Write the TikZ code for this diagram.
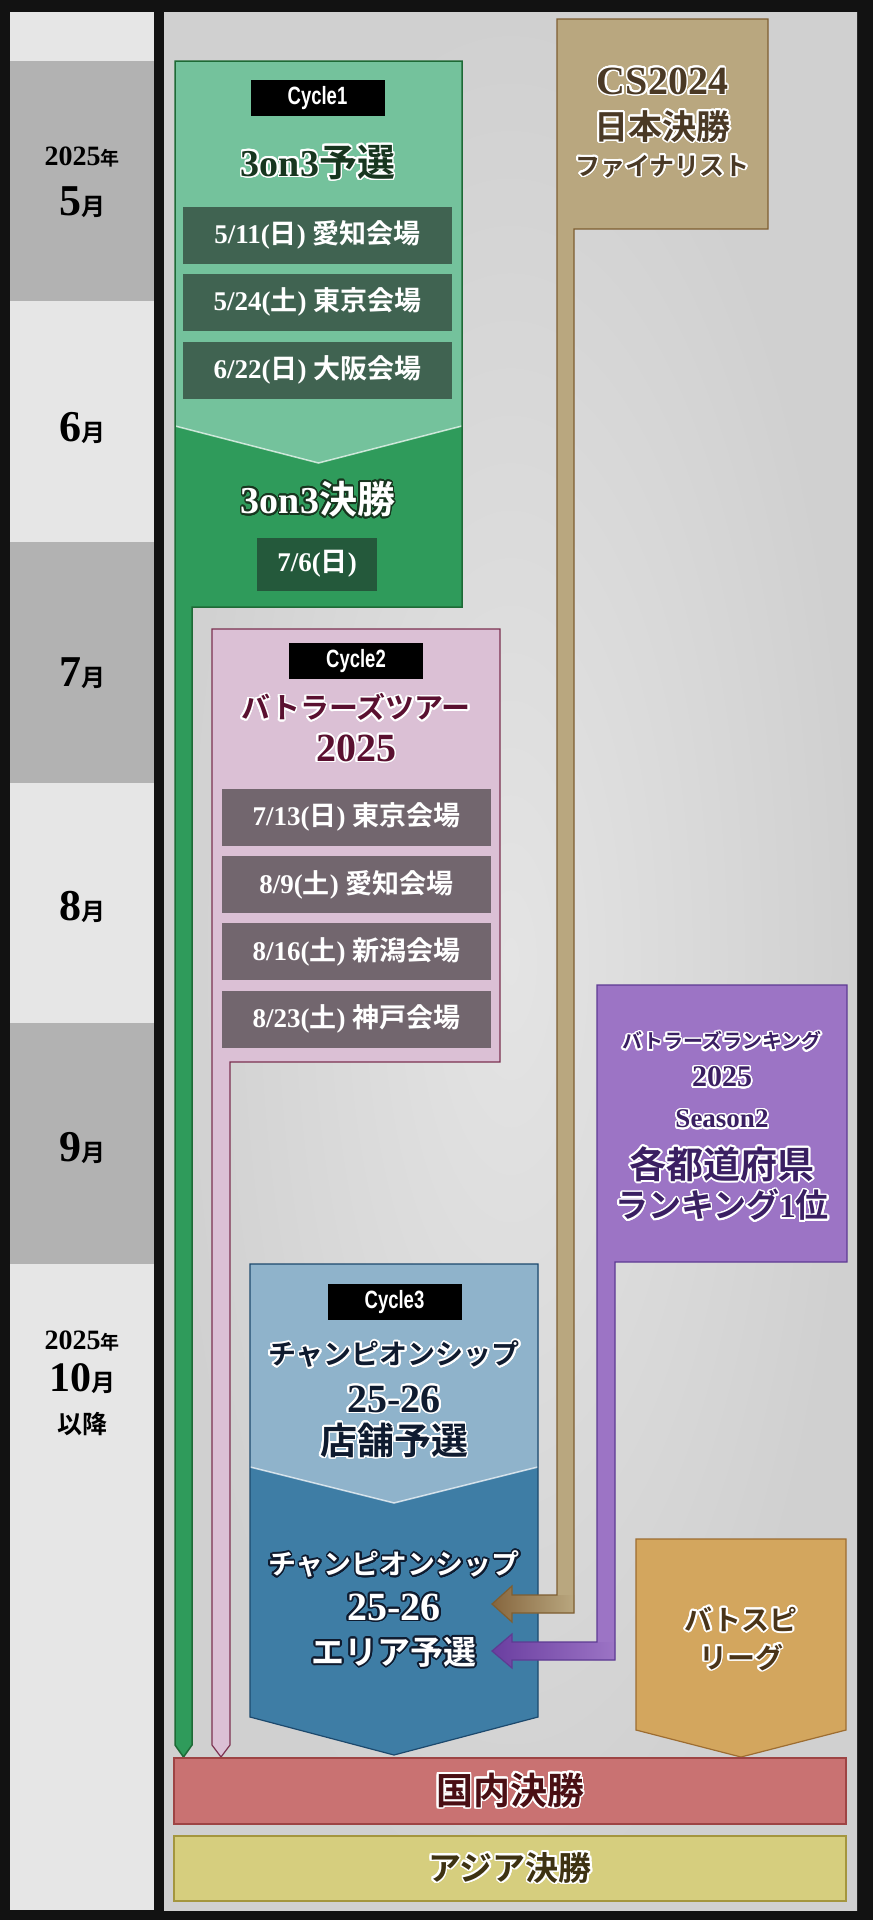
\documentclass[tikz,border=0pt]{standalone}
\usepackage{fontspec}
\setmainfont{Liberation Serif}
\newfontfamily\jpfont{Noto Sans CJK JP}[BoldFont={Noto Sans CJK JP Bold}]
\newfontfamily\cyclefont{Liberation Sans}[FakeStretch=0.74]
\usepackage{contour}
\contourlength{1.7pt}
\contournumber{24}

% police japonaise pour les caracteres CJK
\XeTeXinterchartokenstate=1
\newXeTeXintercharclass\jpclass
\newcount\jpc
\jpc="3000
\loop
  \XeTeXcharclass\jpc=\jpclass
  \ifnum\jpc<"9FFF \advance\jpc by 1
\repeat
\XeTeXinterchartoks 0 \jpclass = {\begingroup\jpfont}
\XeTeXinterchartoks 4095 \jpclass = {\begingroup\jpfont}
\XeTeXinterchartoks \jpclass 0 = {\endgroup}
\XeTeXinterchartoks \jpclass 4095 = {\endgroup}

\newcommand{\sz}[1]{\fontsize{#1}{#1}\selectfont}

\definecolor{noir}{HTML}{121212}
\definecolor{fondclair}{HTML}{E4E4E4}
\definecolor{fondsombre}{HTML}{D0D0D0}
\definecolor{moisclair}{HTML}{E6E6E6}
\definecolor{moisfonce}{HTML}{B2B2B2}
\definecolor{vertclair}{HTML}{74C29C}
\definecolor{vertfonce}{HTML}{2F9B5B}
\definecolor{vertbord}{HTML}{1E6A36}
\definecolor{vertdate}{HTML}{3C5B4B}
\definecolor{vertcase}{HTML}{245439}
\definecolor{vertencre}{HTML}{17361F}
\definecolor{rose}{HTML}{DBC0D5}
\definecolor{rosebord}{HTML}{7B3150}
\definecolor{rosedate}{HTML}{6A5F66}
\definecolor{roseencre}{HTML}{5A1030}
\definecolor{sable}{HTML}{B9A77F}
\definecolor{sablebord}{HTML}{7E5E32}
\definecolor{sablefleche}{HTML}{86663E}
\definecolor{sableencre}{HTML}{4A3925}
\definecolor{mauve}{HTML}{9C74C5}
\definecolor{mauvebord}{HTML}{5E3B93}
\definecolor{mauvefleche}{HTML}{6A3EA0}
\definecolor{mauveencre}{HTML}{3A1F62}
\definecolor{bleuclair}{HTML}{8FB3CB}
\definecolor{bleufonce}{HTML}{3E7DA5}
\definecolor{bleubord}{HTML}{1C496D}
\definecolor{bleuencre}{HTML}{0F1B2F}
\definecolor{ocre}{HTML}{D3A65E}
\definecolor{ocrebord}{HTML}{9D6D31}
\definecolor{ocreencre}{HTML}{4A3418}
\definecolor{rouge}{HTML}{C97272}
\definecolor{rougebord}{HTML}{9E4444}
\definecolor{rougeencre}{HTML}{4A0F14}
\definecolor{jaune}{HTML}{D6CE7E}
\definecolor{jaunebord}{HTML}{A4963E}
\definecolor{jauneencre}{HTML}{3E3212}

\begin{document}
\begin{tikzpicture}[x=1pt,y=-1pt]
\tikzset{cycletag/.style={fill=black, text=white, minimum width=134pt, minimum height=36pt, inner sep=0pt, font=\cyclefont\bfseries\sz{25}},
  datebox/.style={fill=#1, fill opacity=.92, text opacity=1, text=white, minimum width=269pt, minimum height=57pt, inner sep=0pt, font=\bfseries\sz{27}},
  titre/.style={inner sep=0pt, font=\bfseries\sz{#1}},
  mois/.style={inner sep=0pt, font=\bfseries, text=black},
  chevron/.style={draw=white, draw opacity=.7, line width=1.5pt},
  barre/.style={line width=1.2pt, minimum width=672pt, inner sep=0pt}}
\useasboundingbox (0,0) rectangle (873,1920);
\fill[noir] (0,0) rectangle (873,1920);
\shade[inner color=fondclair, outer color=fondsombre] (164,12) rectangle (857,1910);
% colonne des mois
\fill[moisclair] (10,12) rectangle (154,1910);
\fill[moisfonce] (10,61) rectangle (154,301);
\fill[moisfonce] (10,542) rectangle (154,783);
\fill[moisfonce] (10,1023) rectangle (154,1264);
\node[mois] (an1) at (82,157) {{\sz{28}2025}{\sz{19}年}};
\node[mois] (m5) at (82,202) {{\sz{44}5}{\sz{24}月}};
\node[mois] (m6) at (82,428) {{\sz{44}6}{\sz{24}月}};
\node[mois] (m7) at (82,673) {{\sz{44}7}{\sz{24}月}};
\node[mois] (m8) at (82,907) {{\sz{44}8}{\sz{24}月}};
\node[mois] (m9) at (82,1148) {{\sz{44}9}{\sz{24}月}};
\node[mois] (an2) at (82,1341) {{\sz{28}2025}{\sz{19}年}};
\node[mois] (m10) at (82,1379) {{\sz{42}10}{\sz{24}月}};
\node[mois] (apres) at (82,1424) {{\sz{25}以降}};
% Cycle1
\fill[vertfonce] (175,61) -- (462,61) -- (462,607) -- (192,607) -- (192,1745) -- (183.5,1757) -- (175,1745) -- cycle;
\fill[vertclair] (175,61) -- (462,61) -- (462,426) -- (318.5,463) -- (175,426) -- cycle;
\draw[chevron] (175,426) -- (318.5,463) -- (462,426);
\draw[vertbord, line width=1.5pt] (175,61) -- (462,61) -- (462,607) -- (192,607) -- (192,1745) -- (183.5,1757) -- (175,1745) -- cycle;
\node[cycletag] (cy1) at (317.5,98) {Cycle1};
\node[titre=38, text=vertencre] (qualif) at (318,163) {\contour{white}{3on3予選}};
\node[datebox=vertdate] (d1) at (317.5,235) {5/11(日) 愛知会場};
\node[datebox=vertdate] (d2) at (317.5,302) {5/24(土) 東京会場};
\node[datebox=vertdate] (d3) at (317.5,370) {6/22(日) 大阪会場};
\node[titre=38, text=white] (finale) at (318,500) {\contour{vertencre}{3on3決勝}};
\node[datebox=vertcase, minimum width=120pt, minimum height=53pt] (d4) at (317,564) {7/6(日)};
% Cycle2
\filldraw[fill=rose, draw=rosebord, line width=1.2pt] (212,629) -- (500,629) -- (500,1062) -- (230,1062) -- (230,1745) -- (221,1757) -- (212,1745) -- cycle;
\node[cycletag] (cy2) at (356,661) {Cycle2};
\node[titre=29, text=roseencre] (tour) at (356,708) {\contour{white}{バトラーズツアー}};
\node[titre=40, text=roseencre] (tour2) at (356,749) {\contour{white}{2025}};
\node[datebox=rosedate] (e1) at (356.5,817) {7/13(日) 東京会場};
\node[datebox=rosedate] (e2) at (356.5,884.5) {8/9(土) 愛知会場};
\node[datebox=rosedate] (e3) at (356.5,951.5) {8/16(土) 新潟会場};
\node[datebox=rosedate] (e4) at (356.5,1019) {8/23(土) 神戸会場};
% Cycle3
\fill[bleufonce] (250,1264) -- (538,1264) -- (538,1717) -- (394,1755) -- (250,1717) -- cycle;
\fill[bleuclair] (250,1264) -- (538,1264) -- (538,1467) -- (394,1503) -- (250,1467) -- cycle;
\draw[chevron] (250,1467) -- (394,1503) -- (538,1467);
\draw[bleubord, line width=1.2pt] (250,1264) -- (538,1264) -- (538,1717) -- (394,1755) -- (250,1717) -- cycle;
\node[cycletag] (cy3) at (394.5,1302) {Cycle3};
\node[titre=28, text=bleuencre] (champ) at (394,1355) {\contour{white}{チャンピオンシップ}};
\node[titre=40, text=bleuencre] (saison) at (394,1400) {\contour{white}{25-26}};
\node[titre=37, text=bleuencre] (boutique) at (394,1441) {\contour{white}{店舗予選}};
\node[titre=28, text=white] (champb) at (394,1565) {\contour{bleuencre}{チャンピオンシップ}};
\node[titre=40, text=white] (saisonb) at (394,1608) {\contour{bleuencre}{25-26}};
\node[titre=33, text=white] (zone) at (394,1653) {\contour{bleuencre}{エリア予選}};
% CS2024 et sa fleche
\fill[sable] (557,19) -- (768,19) -- (768,229) -- (574,229) -- (574,1613) -- (512,1613) -- (512,1622) -- (492,1604) -- (512,1586) -- (512,1595) -- (557,1595) -- cycle;
\shade[left color=sablefleche, right color=sable] (574,1613) -- (512,1613) -- (512,1622) -- (492,1604) -- (512,1586) -- (512,1595) -- (574,1595) -- cycle;
\draw[sablebord, line width=1.2pt] (557,19) -- (768,19) -- (768,229) -- (574,229) -- (574,1613) -- (512,1613) -- (512,1622) -- (492,1604) -- (512,1586) -- (512,1595) -- (557,1595) -- cycle;
\node[titre=40, text=sableencre] (cs) at (662.5,82) {\contour{white}{CS2024}};
\node[titre=34, text=sableencre] (japon) at (662.5,127) {\contour{white}{日本決勝}};
\node[titre=25, text=sableencre] (finaliste) at (662.5,167) {\contour{white}{ファイナリスト}};
% classement et sa fleche
\fill[mauve] (597,985) -- (847,985) -- (847,1262) -- (615,1262) -- (615,1660) -- (512,1660) -- (512,1668) -- (492,1651) -- (512,1634) -- (512,1642) -- (597,1642) -- cycle;
\shade[left color=mauvefleche, right color=mauve] (615,1660) -- (512,1660) -- (512,1668) -- (492,1651) -- (512,1634) -- (512,1642) -- (615,1642) -- cycle;
\draw[mauvebord, line width=1.2pt] (597,985) -- (847,985) -- (847,1262) -- (615,1262) -- (615,1660) -- (512,1660) -- (512,1668) -- (492,1651) -- (512,1634) -- (512,1642) -- (597,1642) -- cycle;
\node[titre=20, text=mauveencre] (rk1) at (722,1042) {\contour{white}{バトラーズランキング}};
\node[titre=30, text=mauveencre] (rk2) at (722,1078) {\contour{white}{2025}};
\node[titre=27, text=mauveencre] (rk3) at (722,1120) {\contour{white}{Season2}};
\node[titre=37, text=mauveencre] (rk4) at (722,1165) {\contour{white}{各都道府県}};
\node[titre=33, text=mauveencre] (rk5) at (722,1206) {\contour{white}{ランキング1位}};
% ligue
\filldraw[fill=ocre, draw=ocrebord, line width=1.2pt] (636,1539) -- (846,1539) -- (846,1730) -- (741,1757) -- (636,1730) -- cycle;
\node[titre=28, text=ocreencre] (ligue1) at (741,1620) {\contour{white}{バトスピ}};
\node[titre=28, text=ocreencre] (ligue2) at (741,1658) {\contour{white}{リーグ}};
% finales
\node[barre, fill=rouge, draw=rougebord, minimum height=66pt, text=rougeencre, font=\bfseries\sz{37}] (national) at (510,1791) {\contour{white}{国内決勝}};
\node[barre, fill=jaune, draw=jaunebord, minimum height=65pt, text=jauneencre, font=\bfseries\sz{33}] (asie) at (510,1868.5) {\contour{white}{アジア決勝}};
\end{tikzpicture}
\end{document}
